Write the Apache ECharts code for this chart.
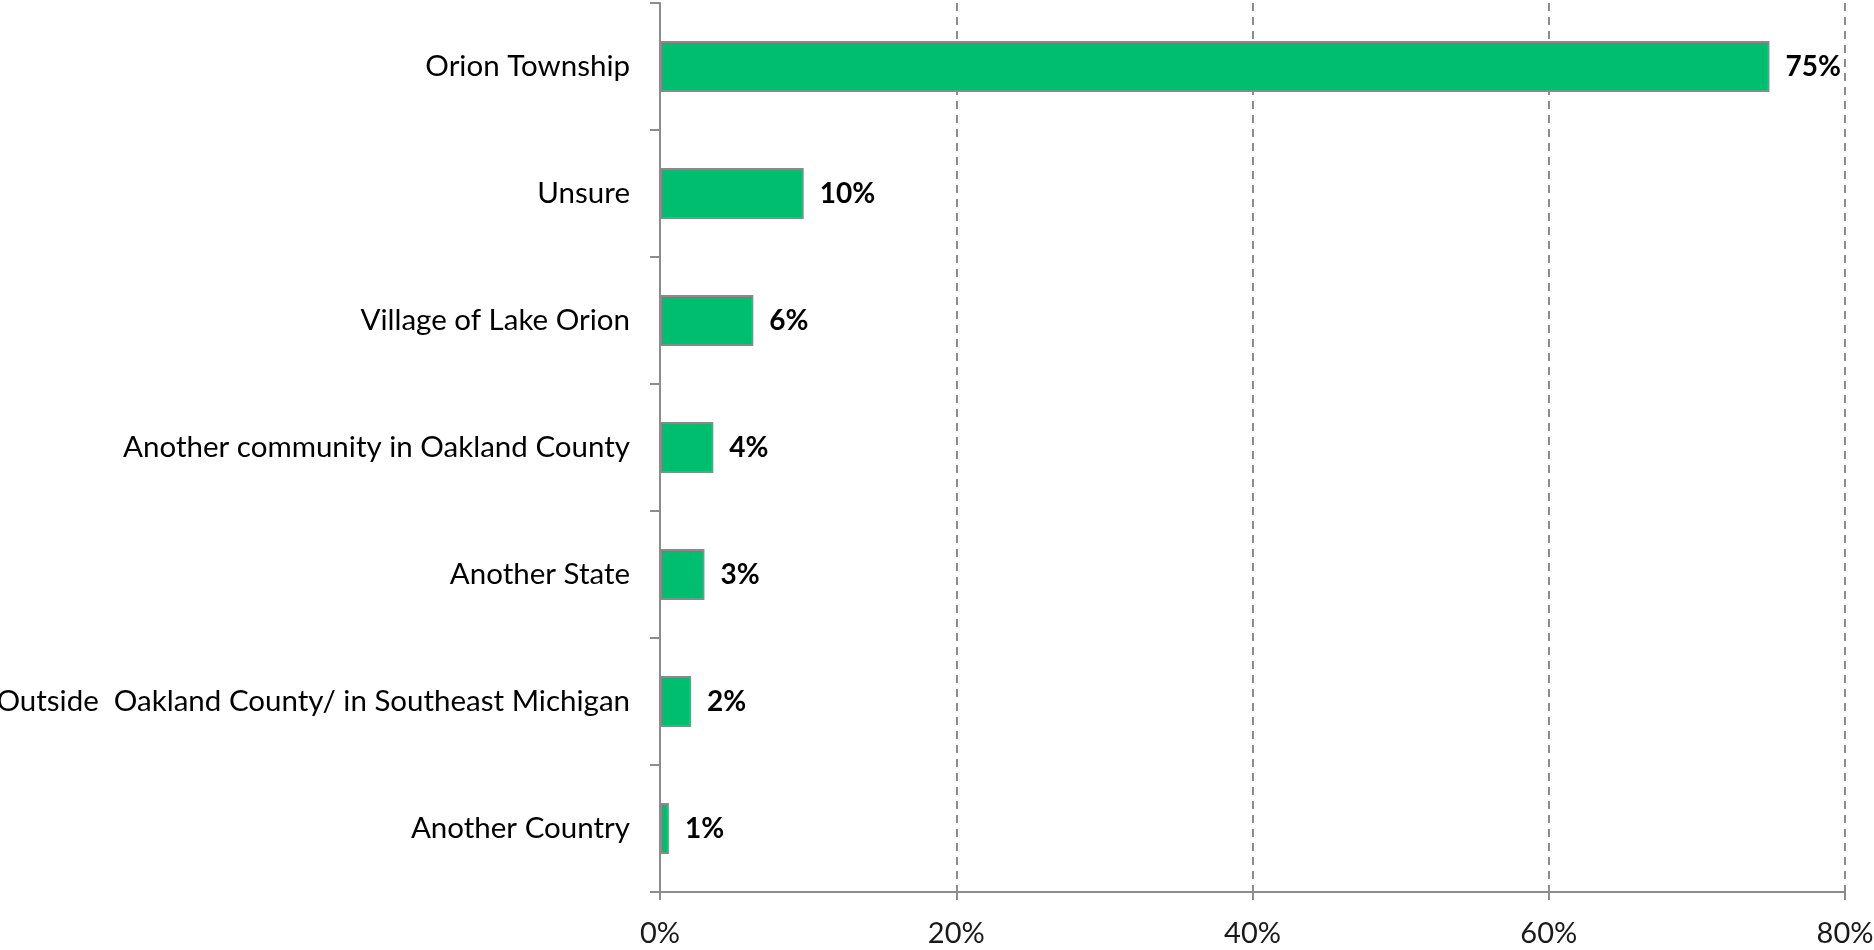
<!DOCTYPE html>
<html>
<head>
<meta charset="utf-8">
<script src="https://cdn.jsdelivr.net/npm/echarts@6/dist/echarts.min.js"></script>
<style>html,body{margin:0;padding:0;background:#fff;}#c{width:1874px;height:950px;}</style>
</head>
<body>
<div id="c"></div>
<script>
const categories = ["Orion Township", "Unsure", "Village of Lake Orion", "Another community in Oakland County", "Another State", "Outside  Oakland County/ in Southeast Michigan", "Another Country"];
const values = [74.9, 9.7, 6.3, 3.6, 3.0, 2.1, 0.6];
const xTicks = [0, 20, 40, 60, 80];

const chart = echarts.init(document.getElementById('c'));
const font = 'Lato';
chart.setOption({
  animation: false,
  grid: { left: 660, right: 29, top: 3, bottom: 58, containLabel: false, outerBoundsMode: 'none' },
  xAxis: {
    type: 'value', min: xTicks[0], max: xTicks[xTicks.length - 1], interval: xTicks[1] - xTicks[0],
    axisLine: { show: true, lineStyle: { color: '#8c8c8c', width: 2 } },
    axisTick: { show: true, length: 8, lineStyle: { color: '#8c8c8c', width: 2 } },
    splitLine: { show: true, lineStyle: { color: '#8c8c8c', width: 2, type: [8, 6] } },
    axisLabel: { formatter: '{value}%', color: '#1a1a1a', fontFamily: font, fontSize: 29, margin: 27 }
  },
  yAxis: {
    type: 'category', data: categories, inverse: true,
    axisLine: { show: true, lineStyle: { color: '#8c8c8c', width: 2 } },
    axisTick: { show: true, length: 10, lineStyle: { color: '#8c8c8c', width: 2 } },
    axisLabel: { color: '#000', fontFamily: font, fontSize: 29.5, margin: 30 }
  },
  series: [{
    type: 'bar', data: values, barWidth: 51,
    itemStyle: { color: '#00BE6F', borderColor: '#8a8a8a', borderWidth: 2 },
    label: { show: true, position: 'right', distance: 16, color: '#000', fontWeight: 'bold', fontFamily: font, fontSize: 28,
      formatter: p => Math.round(p.value) + '%' }
  }]
});
</script>
</body>
</html>
